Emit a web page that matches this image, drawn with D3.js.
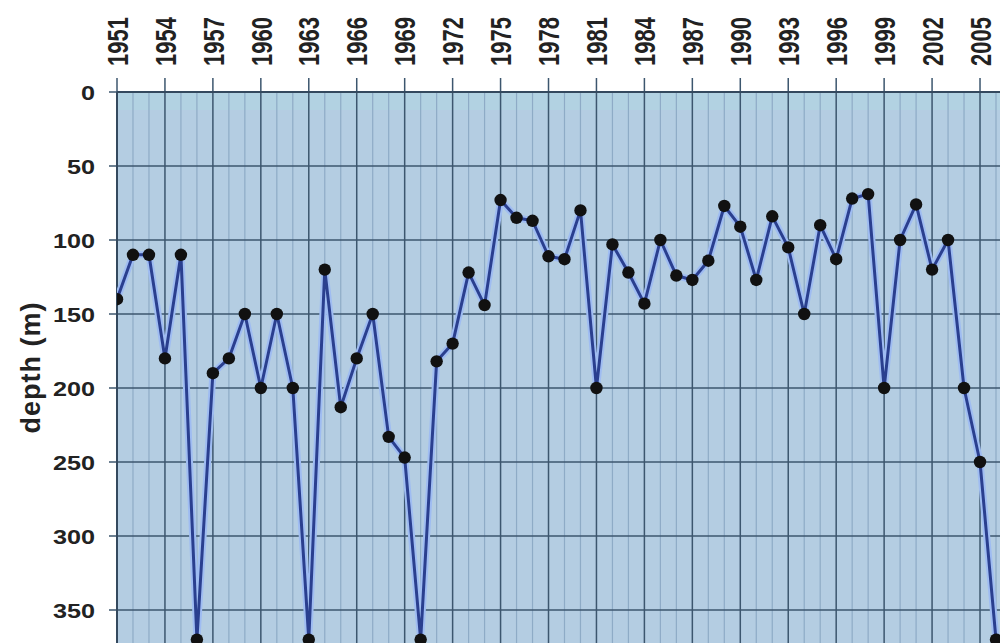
<!DOCTYPE html>
<html><head><meta charset="utf-8">
<script src="https://cdn.jsdelivr.net/npm/d3@7"></script>
<style>
html,body{margin:0;padding:0;background:#fff;}
svg{display:block;font-family:"Liberation Sans",Arial,sans-serif;}
</style></head>
<body>
<svg id="chart" width="1000" height="643"></svg>
<script>
const years = [1951,1952,1953,1954,1955,1956,1957,1958,1959,1960,1961,1962,1963,1964,1965,1966,1967,1968,1969,1970,1971,1972,1973,1974,1975,1976,1977,1978,1979,1980,1981,1982,1983,1984,1985,1986,1987,1988,1989,1990,1991,1992,1993,1994,1995,1996,1997,1998,1999,2000,2001,2002,2003,2004,2005,2006];
const depths = [140,110,110,180,110,370,190,180,150,200,150,200,370,120,213,180,150,233,247,370,182,170,122,144,73,85,87,111,113,80,200,103,122,143,100,124,127,114,77,91,127,84,105,150,90,113,72,69,200,100,76,120,100,200,250,370];
const xTickYears = [1951,1954,1957,1960,1963,1966,1969,1972,1975,1978,1981,1984,1987,1990,1993,1996,1999,2002,2005];
const yTicks = [0,50,100,150,200,250,300,350];
const yTitle = "depth (m)";

(function(){
const svg = d3.select("#chart");
const pL = 117, pR = 1000, pT = 92, pB = 643;
const x = d3.scaleLinear().domain([1951, 2006]).range([pL, 996]);
const y = d3.scaleLinear().domain([0, 372.3]).range([pT, pB]);

svg.append("rect").attr("x", pL).attr("y", pT).attr("width", pR-pL).attr("height", pB-pT).attr("fill", "#b4cde2");
svg.append("rect").attr("x", pL).attr("y", pT).attr("width", pR-pL).attr("height", 18).attr("fill", "#b1d3e2").attr("opacity", 0.8);

const allYears = d3.range(1951, 2007);
svg.append("g").selectAll("line").data(allYears.filter(d => !xTickYears.includes(d))).join("line")
  .attr("x1", d => x(d)).attr("x2", d => x(d)).attr("y1", pT).attr("y2", pB)
  .attr("stroke", "#8eabc6").attr("stroke-width", 1.2);

svg.append("g").selectAll("line").data(xTickYears).join("line")
  .attr("x1", d => x(d)).attr("x2", d => x(d)).attr("y1", pT - 14).attr("y2", pB)
  .attr("stroke", "#3c566e").attr("stroke-width", 1.5);

svg.append("g").selectAll("line").data(yTicks).join("line")
  .attr("x1", pL - 8).attr("x2", pR).attr("y1", d => y(d)).attr("y2", d => y(d))
  .attr("stroke", "#3c566e").attr("stroke-width", 1.5);

svg.append("line").attr("x1", pL).attr("x2", pL).attr("y1", pT).attr("y2", pB).attr("stroke", "#34495e").attr("stroke-width", 2);
svg.append("line").attr("x1", pL).attr("x2", pR).attr("y1", pT).attr("y2", pT).attr("stroke", "#34495e").attr("stroke-width", 2);

svg.append("g").selectAll("text").data(yTicks).join("text")
  .attr("transform", d => `translate(95,${y(d)}) scale(1.2,1)`)
  .attr("text-anchor", "end").attr("dy", "0.36em")
  .attr("font-size", 21).attr("font-weight", "bold").attr("fill", "#222")
  .text(d => d);

svg.append("g").selectAll("text").data(xTickYears).join("text")
  .attr("transform", d => `translate(${x(d)},66) scale(1.35,1) rotate(-90)`)
  .attr("text-anchor", "start").attr("dy", "0.36em")
  .attr("font-size", 22).attr("font-weight", "bold").attr("fill", "#222")
  .text(d => d);

svg.append("text")
  .attr("transform", `translate(30,${(pT+pB)/2}) rotate(-90)`)
  .attr("text-anchor", "middle").attr("dy", "0.36em")
  .attr("font-size", 27).attr("font-weight", "bold").attr("letter-spacing", 1).attr("fill", "#222")
  .text(yTitle);

const data = years.map((yr, i) => ({yr, v: depths[i]}));
const line = d3.line().x(d => x(d.yr)).y(d => y(d.v));
svg.append("clipPath").attr("id", "clip").append("rect").attr("x", pL).attr("y", pT - 10).attr("width", pR-pL).attr("height", pB-pT+10);
const g = svg.append("g").attr("clip-path", "url(#clip)");
g.append("path").datum(data).attr("d", line).attr("fill", "none").attr("stroke", "#9fbcf2").attr("stroke-width", 7).attr("stroke-linejoin", "round");
g.append("path").datum(data).attr("d", line).attr("fill", "none").attr("stroke", "#2a3f8f").attr("stroke-width", 3).attr("stroke-linejoin", "round");
g.selectAll("circle").data(data).join("circle")
  .attr("cx", d => x(d.yr)).attr("cy", d => y(d.v)).attr("r", 6.2)
  .attr("fill", "#111");
})();
</script>
</body></html>
